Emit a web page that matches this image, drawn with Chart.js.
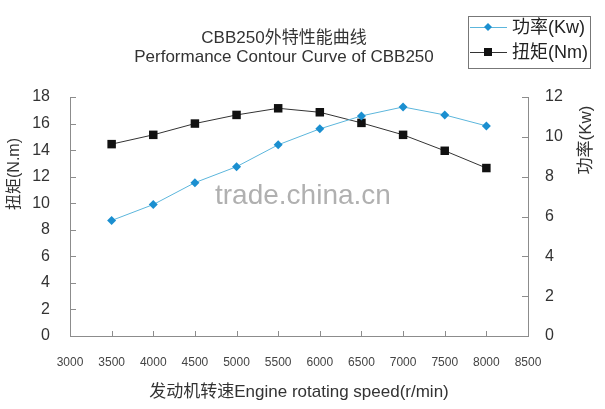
<!DOCTYPE html>
<html>
<head>
<meta charset="utf-8">
<script src="https://cdn.jsdelivr.net/npm/chart.js@4/dist/chart.umd.min.js"></script>
<style>
  body { margin: 0; background: #fff; }
  canvas { display: block; }
</style>
</head>
<body>
<canvas id="perfChart" width="605" height="409"></canvas>
<script>
// 转速 (r/min)
const speeds = [3500, 4000, 4500, 5000, 5500, 6000, 6500, 7000, 7500, 8000];
// 功率 Kw (右轴)
const powerKw = [5.8, 6.6, 7.7, 8.5, 9.6, 10.4, 11.05, 11.5, 11.1, 10.55];
// 扭矩 Nm (左轴)
const torqueNm = [14.45, 15.15, 16.0, 16.65, 17.15, 16.85, 16.05, 15.15, 13.95, 12.65];

const xTicks = [3000, 3500, 4000, 4500, 5000, 5500, 6000, 6500, 7000, 7500, 8000, 8500];
const torqueTicks = [0, 2, 4, 6, 8, 10, 12, 14, 16, 18];
const powerTicks = [0, 2, 4, 6, 8, 10, 12];

const FONT = "'Liberation Sans', Arial, 'Noto Sans CJK SC', sans-serif";
const axisGray = '#8c8c8c';
const textColor = '#333';

const colors = {
  powerLine: '#5cb6dc',
  powerPoint: '#1b8fd0',
  torqueLine: '#333',
  torquePoint: '#111'
};

function setTicks(values) {
  return function(scale) {
    scale.ticks = values.map(v => ({ value: v }));
  };
}

// 自绘：标题、图例、轴标题、内刻度、水印
const decorations = {
  id: 'decorations',
  beforeDatasetsDraw(chart) {
    const ctx = chart.ctx;
    ctx.save();
    ctx.font = '28px ' + FONT;
    ctx.fillStyle = 'rgba(150,150,150,0.75)';
    ctx.textAlign = 'left';
    ctx.textBaseline = 'alphabetic';
    ctx.fillText('trade.china.cn', 215, 204);
    ctx.restore();
  },
  afterDraw(chart) {
    const ctx = chart.ctx;
    const area = chart.chartArea;
    const sx = chart.scales.x, sl = chart.scales.y, sr = chart.scales.yR;

    ctx.save();
    // 内刻度
    ctx.strokeStyle = axisGray;
    ctx.lineWidth = 1;
    ctx.beginPath();
    sl.ticks.forEach(t => {
      const y = Math.round(sl.getPixelForValue(t.value)) + 0.5;
      ctx.moveTo(area.left, y); ctx.lineTo(area.left + 6, y);
    });
    sr.ticks.forEach(t => {
      const y = Math.round(sr.getPixelForValue(t.value)) + 0.5;
      ctx.moveTo(area.right, y); ctx.lineTo(area.right - 6, y);
    });
    sx.ticks.forEach(t => {
      const x = Math.round(sx.getPixelForValue(t.value)) + 0.5;
      ctx.moveTo(x, area.bottom); ctx.lineTo(x, area.bottom - 5);
    });
    ctx.stroke();

    // 标题
    ctx.fillStyle = textColor;
    ctx.textAlign = 'center';
    ctx.textBaseline = 'middle';
    ctx.font = '17px ' + FONT;
    ctx.fillText('CBB250外特性能曲线', 284, 38);
    ctx.fillText('Performance Contour Curve of CBB250', 284, 57);

    // 轴标题 (竖排)
    function vText(text, x, y, size) {
      ctx.save();
      ctx.translate(x, y);
      ctx.rotate(-Math.PI / 2);
      ctx.font = size + 'px ' + FONT;
      ctx.fillText(text, 0, 0);
      ctx.restore();
    }
    vText('扭矩(N.m)', 15, 174, 16);
    vText('功率(Kw)', 586, 140, 17);

    // 图例
    ctx.fillStyle = '#fff';
    ctx.fillRect(468, 16, 122, 52);
    ctx.strokeStyle = '#777';
    ctx.strokeRect(468.5, 16.5, 122, 52);
    chart.data.datasets.forEach((ds, i) => {
      const y = i === 0 ? 27 : 52;
      ctx.strokeStyle = ds.borderColor;
      ctx.lineWidth = 1;
      ctx.beginPath();
      ctx.moveTo(470, y + 0.5); ctx.lineTo(507, y + 0.5);
      ctx.stroke();
      ctx.fillStyle = ds.pointBackgroundColor;
      ctx.beginPath();
      if (ds.pointStyle === 'rectRot') {
        ctx.moveTo(488, y - 4); ctx.lineTo(492, y); ctx.lineTo(488, y + 4); ctx.lineTo(484, y);
        ctx.closePath();
        ctx.fill();
      } else {
        ctx.fillRect(484, y - 4, 8, 8);
      }
      ctx.fillStyle = '#222';
      ctx.textAlign = 'left';
      ctx.font = '18px ' + FONT;
      ctx.fillText(ds.label, 512, y + 1);
    });
    ctx.restore();
  }
};

new Chart(document.getElementById('perfChart'), {
  type: 'line',
  data: {
    datasets: [{
      label: '功率(Kw)',
      yAxisID: 'yR',
      data: speeds.map((s, i) => ({ x: s, y: powerKw[i] })),
      borderColor: colors.powerLine,
      borderWidth: 1,
      pointStyle: 'rectRot',
      pointRadius: 4.5,
      pointBackgroundColor: colors.powerPoint,
      pointBorderColor: colors.powerPoint,
      pointBorderWidth: 0,
      tension: 0
    }, {
      label: '扭矩(Nm)',
      yAxisID: 'y',
      data: speeds.map((s, i) => ({ x: s, y: torqueNm[i] })),
      borderColor: colors.torqueLine,
      borderWidth: 1,
      pointStyle: 'rect',
      pointRadius: 6,
      pointBackgroundColor: colors.torquePoint,
      pointBorderColor: colors.torquePoint,
      pointBorderWidth: 0,
      tension: 0
    }]
  },
  options: {
    responsive: false,
    animation: false,
    layout: { padding: { top: 97, left: 0, right: 0, bottom: 0 } },
    plugins: {
      legend: { display: false },
      title: { display: false },
      tooltip: { enabled: false }
    },
    scales: {
      x: {
        type: 'linear',
        min: 3000,
        max: 8500,
        afterBuildTicks: setTicks(xTicks),
        afterFit(scale) { scale.height = 73; },
        grid: { display: false },
        border: { display: true, color: axisGray, width: 1 },
        ticks: {
          autoSkip: false,
          maxRotation: 0,
          padding: 11,
          color: '#444',
          font: { family: FONT, size: 12 },
          callback: v => String(v)
        },
        title: {
          display: true,
          text: '发动机转速Engine rotating speed(r/min)',
          color: textColor,
          font: { family: FONT, size: 17 },
          padding: { top: 0, bottom: 6 }
        }
      },
      y: {
        position: 'left',
        min: 0,
        max: 18,
        afterBuildTicks: setTicks(torqueTicks),
        afterFit(scale) { scale.width = 70; },
        grid: { display: false },
        border: { display: true, color: axisGray, width: 1 },
        ticks: {
          padding: 12,
          color: textColor,
          font: { family: FONT, size: 16 },
          callback: v => String(v)
        }
      },
      yR: {
        position: 'right',
        min: 0,
        max: 12,
        afterBuildTicks: setTicks(powerTicks),
        afterFit(scale) { scale.width = 77; },
        grid: { display: false },
        border: { display: true, color: axisGray, width: 1 },
        ticks: {
          padding: 9,
          color: textColor,
          font: { family: FONT, size: 16 },
          callback: v => String(v)
        }
      }
    }
  },
  plugins: [decorations]
});
</script>
</body>
</html>
